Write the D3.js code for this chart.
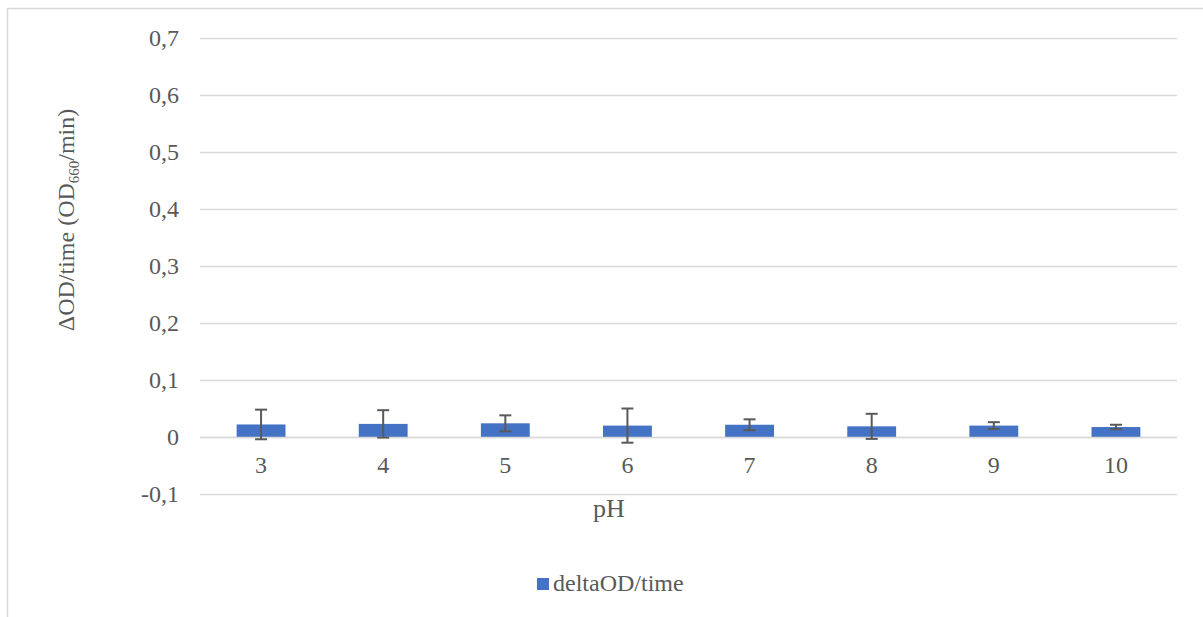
<!DOCTYPE html>
<html><head><meta charset="utf-8">
<script src="https://cdn.jsdelivr.net/npm/d3@7"></script>
</head><body style="margin:0;background:#fff">
<script>
const categories = ["3","4","5","6","7","8","9","10"];
const values = [0.022, 0.023, 0.024, 0.020, 0.0215, 0.0187, 0.020, 0.0175];
const errors = [0.026, 0.024, 0.014, 0.030, 0.0095, 0.022, 0.006, 0.004];
const yTicks = [-0.1, 0, 0.1, 0.2, 0.3, 0.4, 0.5, 0.6, 0.7];
const seriesName = "deltaOD/time";

const W = 1203, H = 617;
const FONT = '"Liberation Serif", "Times New Roman", Times, serif';
const svg = d3.select("body").append("svg").attr("width", W).attr("height", H)
  .style("display", "block").style("font-family", FONT);

function txt(sel, size) {
  return sel.attr("font-family", FONT).style("font-family", FONT).style("font-size", size + "px").attr("font-size", size);
}

// chart border
svg.append("path").attr("d", `M7.5,${H} V8.5 H${W}`).attr("fill","none").attr("stroke","#d9d9d9").attr("stroke-width",1.5);

const pLeft = 200, pRight = 1177, pTop = 38, pBottom = 494;
const x = d3.scaleBand().domain(categories).range([pLeft, pRight]).paddingInner(0.6).paddingOuter(0.3);
const y = d3.scaleLinear().domain([-0.1, 0.7]).range([pBottom, pTop]);

// gridlines
svg.append("g").selectAll("line").data(yTicks).join("line")
  .attr("x1", pLeft).attr("x2", pRight)
  .attr("y1", d => Math.round(y(d)) + 0.5).attr("y2", d => Math.round(y(d)) + 0.5)
  .attr("stroke", "#d9d9d9").attr("stroke-width", 1.3);

// y axis labels
const yAxis = d3.axisLeft(y).tickValues(yTicks).tickSize(0).tickPadding(21)
  .tickFormat(d => { const s = d3.format(".1f")(Math.abs(d) < 1e-9 ? 0 : d).replace("−","-"); return s === "0.0" ? "0" : s.replace(".", ","); });
const gy = svg.append("g").attr("transform", `translate(${pLeft},0)`).call(yAxis);
gy.select(".domain").remove();
txt(gy, 24);
txt(gy.selectAll("text"), 24).attr("fill", "#595959");

// bars
svg.append("g").selectAll("rect").data(values).join("rect")
  .attr("x", (d,i) => x(categories[i]))
  .attr("width", x.bandwidth())
  .attr("y", d => y(d))
  .attr("height", d => y(0) - y(d))
  .attr("fill", "#4472c4");

// zero line over bars
svg.append("line").attr("x1", pLeft).attr("x2", pRight)
  .attr("y1", Math.round(y(0)) + 0.5).attr("y2", Math.round(y(0)) + 0.5)
  .attr("stroke", "#d9d9d9").attr("stroke-width", 1.3);

// error bars
const eg = svg.append("g").attr("stroke", "#595959").attr("stroke-width", 2);
values.forEach((v, i) => {
  const cx = x(categories[i]) + x.bandwidth() / 2;
  const y1 = y(v + errors[i]), y2 = y(v - errors[i]);
  eg.append("line").attr("x1", cx).attr("x2", cx).attr("y1", y1).attr("y2", y2);
  eg.append("line").attr("x1", cx - 6).attr("x2", cx + 6).attr("y1", y1).attr("y2", y1);
  eg.append("line").attr("x1", cx - 6).attr("x2", cx + 6).attr("y1", y2).attr("y2", y2);
});

// x axis labels
const xAxis = d3.axisBottom(x).tickSize(0).tickPadding(19);
const gx = svg.append("g").attr("transform", `translate(0,${y(0)})`).call(xAxis);
gx.select(".domain").remove();
txt(gx, 24);
txt(gx.selectAll("text"), 24).attr("fill", "#595959");

// x axis title
txt(svg.append("text"), 26).attr("x", 609).attr("y", 517).attr("text-anchor", "middle")
  .attr("fill", "#595959").text("pH");

// y axis title
const yt = txt(svg.append("text"), 24).attr("transform", "translate(74,220) rotate(-90)").attr("text-anchor", "middle")
  .attr("fill", "#595959");
yt.append("tspan").text("ΔOD/time (OD");
yt.append("tspan").style("font-size", "15px").attr("dy", 5).text("660");
yt.append("tspan").attr("dy", -5).text("/min)");

// legend
svg.append("rect").attr("x", 537).attr("y", 578).attr("width", 12).attr("height", 12).attr("fill", "#4472c4");
txt(svg.append("text"), 24).attr("x", 553).attr("y", 591)
  .attr("fill", "#595959").text(seriesName);
</script>
</body></html>
